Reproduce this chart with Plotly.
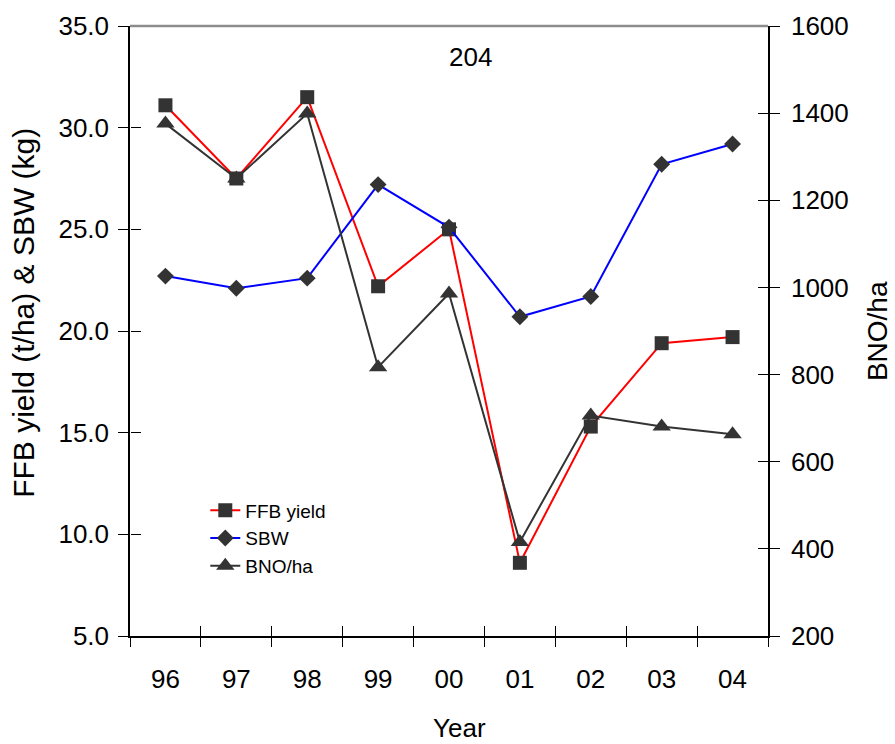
import plotly.graph_objects as go

# Yearly record for block 204
years = ["96", "97", "98", "99", "00", "01", "02", "03", "04"]
ffb_yield = [31.1, 27.5, 31.5, 22.2, 25.0, 8.6, 15.3, 19.4, 19.7]   # t/ha
sbw = [22.7, 22.1, 22.6, 27.2, 25.1, 20.7, 21.7, 28.2, 29.2]         # kg
bno_ha = [1376, 1250, 1399, 817, 986, 416, 706, 681, 663]            # bunches/ha

left_ticks = [5, 10, 15, 20, 25, 30, 35]
right_ticks = [200, 400, 600, 800, 1000, 1200, 1400, 1600]
x_bounds = [i - 0.5 for i in range(len(years) + 1)]
x_range = [-0.5, len(years) - 0.5]

FONT = "Arial, Liberation Sans, sans-serif"
MARK = "#333333"

fig = go.Figure()
fig.add_trace(go.Scatter(
    x=years, y=ffb_yield, name="FFB yield", mode="lines+markers",
    line=dict(color="#ff0000", width=2),
    marker=dict(symbol="square", size=14, color=MARK),
))
fig.add_trace(go.Scatter(
    x=years, y=sbw, name="SBW", mode="lines+markers",
    line=dict(color="#0000ff", width=2),
    marker=dict(symbol="diamond", size=13, color=MARK),
))
fig.add_trace(go.Scatter(
    x=years, y=bno_ha, name="BNO/ha", mode="lines+markers", yaxis="y2",
    line=dict(color=MARK, width=2),
    marker=dict(symbol="triangle-up", size=16, color=MARK),
))

# empty traces so the tick-only overlay axes get drawn
for xa, ya in [("x2", "y"), ("x3", "y"), ("x", "y3"), ("x", "y4")]:
    fig.add_trace(go.Scatter(x=[], y=[], xaxis=xa, yaxis=ya, mode="markers",
                             showlegend=False, hoverinfo="skip"))

tick_font = dict(family=FONT, size=26, color="black")
bare = dict(showticklabels=False, showgrid=False, zeroline=False)
tk = dict(tickcolor="black", tickwidth=1, ticklen=10)

fig.update_layout(
    width=895, height=744,
    margin=dict(l=130, r=127, t=26, b=108),
    paper_bgcolor="white", plot_bgcolor="white",
    font=dict(family=FONT, color="black"),
    showlegend=True,
    legend=dict(
        x=0.118, y=0.237, xanchor="left", yanchor="top",
        bgcolor="rgba(0,0,0,0)", font=dict(family=FONT, size=19),
        tracegroupgap=0,
    ),
    xaxis=dict(
        type="category", categoryorder="array", categoryarray=years,
        range=x_range, ticks="", showgrid=False,
        showline=True, linecolor="black", linewidth=1.5,
        tickfont=tick_font, ticklabelstandoff=19,
    ),
    # crossing tick marks on the category boundaries
    xaxis2=dict(overlaying="x", anchor="y", side="bottom", type="linear",
                range=x_range, tickmode="array", tickvals=x_bounds,
                ticks="outside", showline=False, **tk, **bare),
    xaxis3=dict(overlaying="x", anchor="y", side="bottom", type="linear",
                range=x_range, tickmode="array", tickvals=x_bounds,
                ticks="inside", showline=False, **tk, **bare),
    yaxis=dict(
        range=[5, 35], tickmode="array", tickvals=left_ticks, tickformat=".1f",
        ticks="outside", **tk,
        showline=True, linecolor="black", linewidth=1.5,
        showgrid=False, zeroline=False, tickfont=tick_font, ticklabelstandoff=4,
    ),
    yaxis2=dict(
        overlaying="y", side="right", anchor="x",
        range=[200, 1600], tickmode="array", tickvals=right_ticks,
        ticks="outside", **tk,
        showline=True, linecolor="black", linewidth=1.5,
        showgrid=False, zeroline=False, tickfont=tick_font, ticklabelstandoff=6,
    ),
    yaxis3=dict(overlaying="y", side="left", anchor="free", position=0,
                range=[5, 35], tickmode="array", tickvals=left_ticks,
                ticks="inside", showline=False, **tk, **bare),
    yaxis4=dict(overlaying="y", side="right", anchor="x", range=[200, 1600],
                tickmode="array", tickvals=right_ticks, ticks="inside",
                showline=False, **tk, **bare),
    # grey frame line along the top of the plot area
    shapes=[dict(type="line", xref="paper", yref="paper", x0=0, x1=1, y0=1, y1=1,
                 line=dict(color="#8c8c8c", width=2.5), layer="above")],
    annotations=[
        dict(text="204", xref="paper", yref="paper", x=0.533, y=0.949,
             xanchor="center", yanchor="middle", showarrow=False,
             font=dict(family=FONT, size=26)),
        dict(text="FFB yield (t/ha) &amp; SBW (kg)", xref="paper", yref="paper",
             x=-0.166, y=0.53, xanchor="center", yanchor="middle", textangle=-90,
             showarrow=False, font=dict(family=FONT, size=30)),
        dict(text="BNO/ha", xref="paper", yref="paper", x=1.171, y=0.5,
             xanchor="center", yanchor="middle", textangle=-90,
             showarrow=False, font=dict(family=FONT, size=28)),
        dict(text="Year", xref="paper", yref="paper", x=0.517, y=-0.151,
             xanchor="center", yanchor="middle", showarrow=False,
             font=dict(family=FONT, size=26)),
    ],
)

fig.write_html("out.html")
